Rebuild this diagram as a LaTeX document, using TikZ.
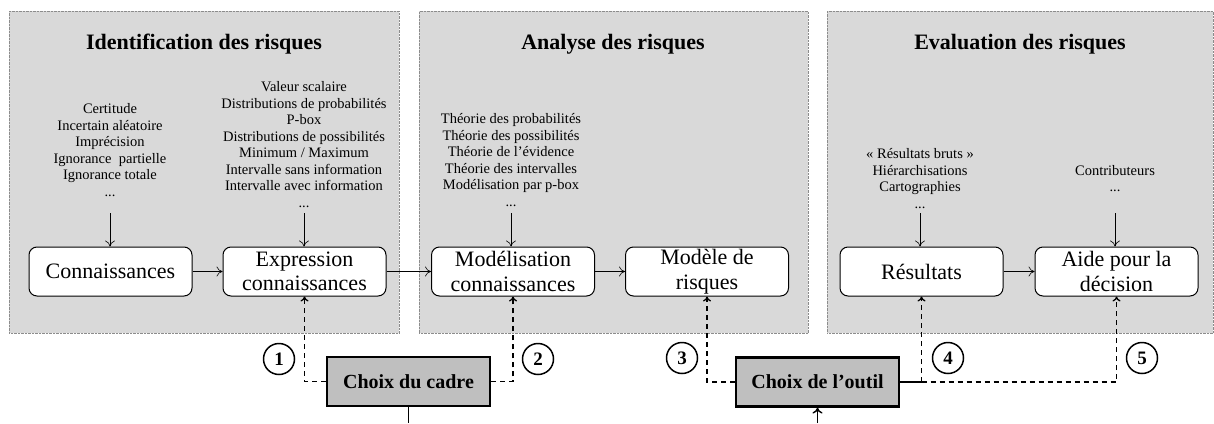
\documentclass[tikz,border=0pt]{standalone}
\usepackage{fontspec}
\setmainfont{Liberation Serif}
\usetikzlibrary{arrows.meta}
\definecolor{panelgray}{HTML}{D9D9D9}
\definecolor{choixgray}{HTML}{BFBFBF}
\definecolor{borderdot}{HTML}{8C8C8C}
\begin{document}
\begin{tikzpicture}[x=1pt,y=-1pt,
  panel/.style={draw=borderdot, fill=panelgray, line width=0.7pt, dash pattern=on 0.7pt off 0.7pt, anchor=north west, inner sep=0pt},
  box/.style={draw, fill=white, rounded corners=8pt, line width=1pt, minimum width=163pt, minimum height=49pt, align=center, font=\fontsize{22}{24.5}\selectfont, inner sep=0pt},
  list/.style={align=center, font=\fontsize{14.5}{16.5}\selectfont, inner sep=0pt, anchor=north},
  ptitle/.style={font=\bfseries\fontsize{22}{24}\selectfont, anchor=base, inner sep=0pt},
  choix/.style={draw, fill=choixgray, line width=2.2pt, minimum width=163pt, minimum height=49pt, font=\bfseries\fontsize{20}{24}\selectfont, inner sep=0pt},
  num/.style={circle, draw, line width=1.5pt, minimum size=31pt, inner sep=0pt, font=\bfseries\fontsize{19}{22}\selectfont},
  arr/.style={-{To[length=6pt,width=10pt]}, line width=0.6pt},
  darr/.style={-{To[length=5pt,width=8pt]}, dash pattern=on 5pt off 4pt, line width=1.3pt},
]
\useasboundingbox (0,0) rectangle (1214,423);

% panels
\node[panel, minimum width=390pt, minimum height=322pt] (p1) at (9,11) {};
\node[panel, minimum width=389pt, minimum height=322pt] (p2) at (419,11) {};
\node[panel, minimum width=386pt, minimum height=322pt] (p3) at (827,11) {};

% titles
\node[ptitle] (t1) at (204,49) {Identification des risques};
\node[ptitle] (t2) at (613,49) {Analyse des risques};
\node[ptitle] (t3) at (1020,49) {Evaluation des risques};

% lists
\node[list] (l1) at (110,103.3) {Certitude\\Incertain aléatoire\\Imprécision\\Ignorance~ partielle\\Ignorance totale\\...};
\node[list] (l2) at (304,81.3) {Valeur scalaire\\Distributions de probabilités\\P-box\\Distributions de possibilités\\Minimum / Maximum\\Intervalle sans information\\Intervalle avec information\\...};
\node[list] (l3) at (511,113.3) {Théorie des probabilités\\Théorie des possibilités\\Théorie de l’évidence\\Théorie des intervalles\\Modélisation par p-box\\...};
\node[list] (l4) at (920,148.3) {«~Résultats bruts~»\\Hiérarchisations\\Cartographies\\...};
\node[list] (l5) at (1115,164.8) {Contributeurs\\...};

% boxes
\node[box] (c1) at (110.5,271.5) {Connaissances};
\node[box] (c2) at (304.5,271.5) {Expression\\connaissances};
\node[box] (c3) at (513,271.5) {Modélisation\\connaissances};
\node[box] (c4) at (707,271.5) {Modèle de\\risques};
\node[box] (c5) at (921.5,271.5) {Résultats};
\node[box] (c6) at (1116.5,271.5) {Aide pour la\\décision};

% list arrows
\foreach \l/\c in {l1/c1,l2/c2,l3/c3,l4/c5,l5/c6}
  \draw[arr] (\l.south |- 0,213) -- (\l.south |- \c.north);

% box to box arrows
\draw[arr] (c1) -- (c2);
\draw[arr] (c2) -- (c3);
\draw[arr] (c3) -- (c4);
\draw[arr] (c5) -- (c6);

% choix boxes
\node[choix] (cadre) at (408.5,381.5) {Choix du cadre};
\node[choix] (outil) at (817.5,382) {Choix de l’outil};
\coordinate (cb) at (408.5,423);
\coordinate (ob) at (817.5,423);

\draw[line width=1.4pt] (cadre.south) -- (cb);
\draw[-{To[length=6pt,width=10pt]}, line width=1.4pt] (ob) -- (outil.south);

\draw[darr] (cadre.west) -| (c2.south);
\draw[darr] (cadre.east) -| (c3.south);
\draw[darr] (outil.west) -| (c4.south);
\draw[line width=1.3pt] (outil.east) -- (c5.south |- outil.east);
\draw[darr] (c5.south |- outil.east) -- (c5.south);
\draw[darr] (c5.south |- outil.east) -| (c6.south);

% numbers
\node[num] (n1) at (279,359) {1};
\node[num] (n2) at (538,359) {2};
\node[num] (n3) at (682,358) {3};
\node[num] (n4) at (948,358) {4};
\node[num] (n5) at (1142,358) {5};
\end{tikzpicture}
\end{document}
